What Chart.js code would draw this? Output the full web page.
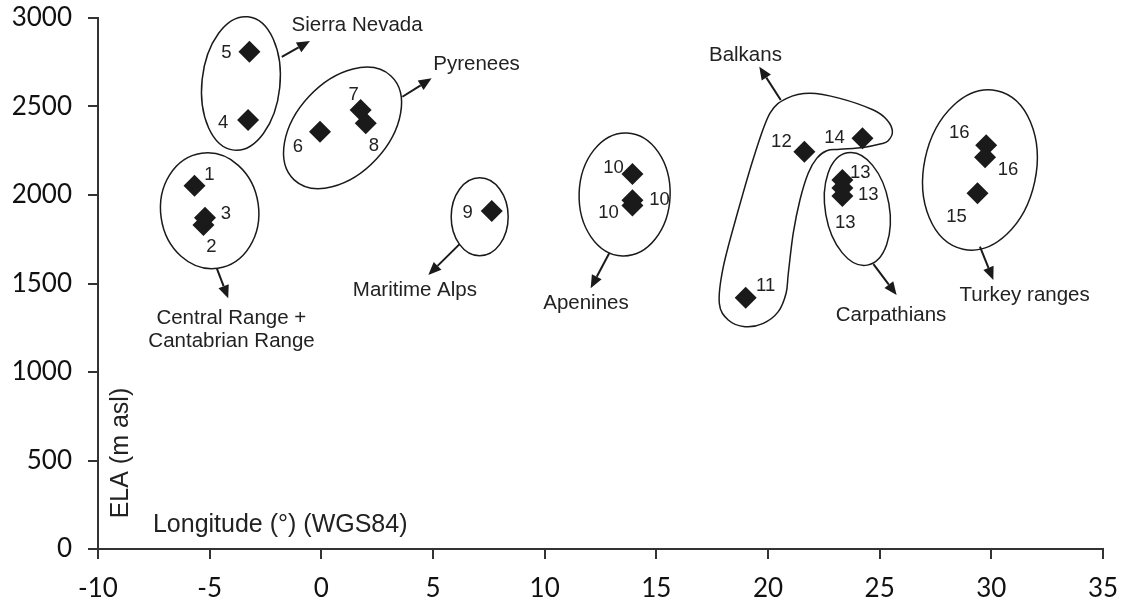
<!DOCTYPE html>
<html>
<head>
<meta charset="utf-8">
<script src="https://cdn.jsdelivr.net/npm/chart.js@4/dist/chart.umd.min.js"></script>
<style>
  body { margin: 0; background: #fff; }
  #wrap { width: 1136px; height: 609px; }
</style>
</head>
<body>
<div id="wrap"><canvas id="elaChart"></canvas></div>
<script>
// Site numbers, longitude (deg) and ELA (m asl)
const siteIds   = ['1', '2', '3', '4', '5', '6', '7', '8', '9', '10', '10', '10', '11', '12', '13', '13', '13', '14', '15', '16', '16'];
const longitude = [-5.68, -5.28, -5.21, -3.28, -3.22, -0.06, 1.76, 1.99, 7.63, 13.93, 13.93, 13.93, 19.0, 21.63, 23.33, 23.33, 23.33, 24.23, 29.38, 29.77, 29.72];
const elaValues = [2052, 1830, 1872, 2424, 2810, 2358, 2480, 2405, 1910, 2119, 1970, 1940, 1420, 2245, 2085, 2040, 1995, 2320, 2010, 2281, 2213];

const xTicks = [-10, -5, 0, 5, 10, 15, 20, 25, 30, 35];
const yTicks = [0, 500, 1000, 1500, 2000, 2500, 3000];

// label offsets in px from each diamond
const labelOffsets = [[15, -11], [8, 22], [21, -4], [-25, 3], [-23, 1], [-22, 15], [-7, -15], [8, 23], [-24, 2],
  [-19, -6], [27, 0], [-24, 7], [20, -12], [-23, -10], [18, -7], [26, 7], [3, 27], [-28, 0], [-21, 24], [-27, -12], [23, 13]];

// group outlines: centre in data units, radii in px, rotation in degrees
const groupEllipses = [
  { x: -3.60, y: 2630, rx: 39, ry: 67, rot: 6 },
  { x: 0.95, y: 2379, rx: 71, ry: 46, rot: -47 },
  { x: -5.0, y: 1911, rx: 49, ry: 58, rot: -8 },
  { x: 7.09, y: 1877, rx: 28.5, ry: 39, rot: 0 },
  { x: 13.58, y: 2003, rx: 45.5, ry: 61.5, rot: 2 },
  { x: 24.0, y: 1921, rx: 32, ry: 57, rot: -10 },
  { x: 29.49, y: 2141, rx: 56, ry: 81, rot: 12 }
];

// Balkans hook outline (data units)
const balkansOutline = [
  [22.63, 2250], [22.18, 2207], [21.80, 2123], [21.43, 1972], [21.13, 1784], [20.91, 1558], [20.81, 1445],
  [20.46, 1341], [19.79, 1275], [18.97, 1256], [18.22, 1294], [17.82, 1388], [18.0, 1595], [18.67, 1915],
  [19.42, 2236], [20.09, 2462], [20.84, 2546], [21.88, 2575], [23.22, 2546], [24.72, 2480], [25.33, 2424],
  [25.57, 2358], [25.37, 2305], [25.02, 2288], [24.27, 2269], [23.22, 2258]
];

const arrows = [
  [-1.77, 2781, -0.51, 2870],
  [3.63, 2555, 4.94, 2659],
  [-4.68, 1586, -4.17, 1416],
  [6.18, 1721, 4.79, 1548],
  [12.89, 1671, 12.06, 1473],
  [20.57, 2537, 19.61, 2725],
  [24.72, 1610, 25.76, 1435],
  [29.49, 1708, 30.09, 1520]
];

const groupNames = [
  { text: 'Sierra Nevada', x: 1.6, y: 2958 },
  { text: 'Pyrenees', x: 6.95, y: 2740 },
  { text: 'Central Range +', x: -4.03, y: 1303 },
  { text: 'Cantabrian Range', x: -4.02, y: 1171 },
  { text: 'Maritime Alps', x: 4.19, y: 1463 },
  { text: 'Apenines', x: 11.85, y: 1388 },
  { text: 'Balkans', x: 18.99, y: 2791 },
  { text: 'Carpathians', x: 25.51, y: 1322 },
  { text: 'Turkey ranges', x: 31.49, y: 1435 }
];

const ink = '#1a1a1a';

const annotate = {
  id: 'annotate',
  afterDatasetsDraw(chart) {
    const ctx = chart.ctx;
    const xs = chart.scales.x, ys = chart.scales.y;
    const px = v => xs.getPixelForValue(v);
    const py = v => ys.getPixelForValue(v);
    ctx.save();
    ctx.strokeStyle = ink;
    ctx.fillStyle = ink;
    ctx.lineWidth = 1.5;

    groupEllipses.forEach(e => {
      ctx.beginPath();
      ctx.ellipse(px(e.x), py(e.y), e.rx, e.ry, e.rot * Math.PI / 180, 0, Math.PI * 2);
      ctx.stroke();
    });

    // closed catmull-rom through the outline points
    const p = balkansOutline.map(d => [px(d[0]), py(d[1])]);
    const n = p.length;
    ctx.beginPath();
    ctx.moveTo(p[0][0], p[0][1]);
    for (let i = 0; i < n; i++) {
      const p0 = p[(i - 1 + n) % n], p1 = p[i], p2 = p[(i + 1) % n], p3 = p[(i + 2) % n];
      ctx.bezierCurveTo(
        p1[0] + (p2[0] - p0[0]) / 6, p1[1] + (p2[1] - p0[1]) / 6,
        p2[0] - (p3[0] - p1[0]) / 6, p2[1] - (p3[1] - p1[1]) / 6,
        p2[0], p2[1]);
    }
    ctx.closePath();
    ctx.stroke();

    ctx.lineWidth = 2;
    arrows.forEach(a => {
      const x1 = px(a[0]), y1 = py(a[1]), x2 = px(a[2]), y2 = py(a[3]);
      const ang = Math.atan2(y2 - y1, x2 - x1);
      const len = 13, half = 5.5;
      const bx = x2 - Math.cos(ang) * len, by = y2 - Math.sin(ang) * len;
      ctx.beginPath();
      ctx.moveTo(x1, y1);
      ctx.lineTo(bx, by);
      ctx.stroke();
      ctx.beginPath();
      ctx.moveTo(x2, y2);
      ctx.lineTo(bx + Math.sin(ang) * half, by - Math.cos(ang) * half);
      ctx.lineTo(bx - Math.sin(ang) * half, by + Math.cos(ang) * half);
      ctx.closePath();
      ctx.fill();
    });

    ctx.textAlign = 'center';
    ctx.textBaseline = 'middle';
    ctx.fillStyle = '#222';
    ctx.font = '20.5px "Liberation Sans", Arial, sans-serif';
    groupNames.forEach(g => ctx.fillText(g.text, px(g.x), py(g.y)));

    // site numbers next to the diamonds
    ctx.font = '18.5px "Liberation Sans", Arial, sans-serif';
    const meta = chart.getDatasetMeta(0);
    meta.data.forEach((pt, i) => {
      const off = labelOffsets[i];
      ctx.fillText(siteIds[i], pt.x + off[0], pt.y + off[1]);
    });

    // axis titles sit inside the plot
    ctx.font = '25px "Liberation Sans", Arial, sans-serif';
    ctx.textAlign = 'left';
    ctx.fillText('Longitude (°) (WGS84)', px(-7.54), py(136));
    ctx.save();
    ctx.translate(px(-8.95), py(542));
    ctx.rotate(-Math.PI / 2);
    ctx.textAlign = 'center';
    ctx.fillText('ELA (m asl)', 0, 0);
    ctx.restore();

    ctx.restore();
  }
};

const ctx = document.getElementById('elaChart').getContext('2d');
new Chart(ctx, {
  type: 'scatter',
  data: {
    datasets: [{
      data: longitude.map((x, i) => ({ x: x, y: elaValues[i] })),
      pointStyle: 'rectRot',
      pointRadius: 11,
      pointHoverRadius: 11,
      backgroundColor: ink,
      borderWidth: 0
    }]
  },
  options: {
    responsive: true,
    maintainAspectRatio: false,
    animation: false,
    layout: { padding: { left: 0, top: 18, right: 33, bottom: 0 } },
    plugins: { legend: { display: false }, tooltip: { enabled: false } },
    scales: {
      x: {
        type: 'linear',
        min: xTicks[0],
        max: xTicks[xTicks.length - 1],
        afterBuildTicks: s => { s.ticks = xTicks.map(v => ({ value: v })); },
        afterFit: s => { s.height = 60; },
        grid: { drawOnChartArea: false, drawTicks: true, tickLength: 10, color: '#333', lineWidth: 2 },
        border: { color: '#333', width: 2 },
        ticks: { color: '#111', padding: 14, font: { family: 'Lato', size: 26 }, callback: v => String(v) }
      },
      y: {
        type: 'linear',
        min: yTicks[0],
        max: yTicks[yTicks.length - 1],
        afterBuildTicks: s => { s.ticks = yTicks.map(v => ({ value: v })); },
        afterFit: s => { s.width = 98; s.paddingTop = 0; s.paddingBottom = 0; },
        grid: { drawOnChartArea: false, drawTicks: true, tickLength: 10, color: '#333', lineWidth: 2 },
        border: { color: '#333', width: 2 },
        ticks: { color: '#111', padding: 16, font: { family: 'Lato', size: 26 }, callback: v => String(v) }
      }
    }
  },
  plugins: [annotate]
});
</script>
</body>
</html>
